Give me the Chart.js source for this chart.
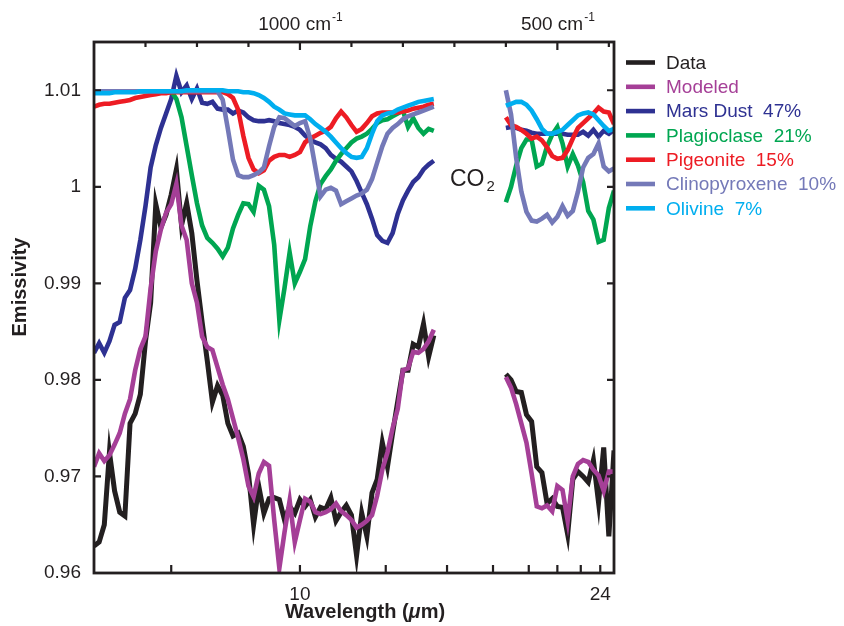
<!DOCTYPE html>
<html>
<head>
<meta charset="utf-8">
<script src="https://cdn.jsdelivr.net/npm/chart.js@4.4.1/dist/chart.umd.min.js"></script>
<style>
html,body{margin:0;padding:0;background:#ffffff;}
#wrap{width:844px;height:626px;position:relative;}
</style>
</head>
<body>
<div id="wrap"><canvas id="c" width="844" height="626"></canvas></div>
<script>
// ---------------- DATA ----------------
// x positions: wavenumber (cm-1); 670 marks the CO2 gap
const wavenumber = [1400,1390,1380,1370,1360,1350,1340,1330,1320,1310,
  1300,1290,1280,1270,1260,1250,1240,1230,1220,1210,
  1200,1190,1180,1170,1160,1150,1140,1130,1120,1110,
  1100,1090,1080,1070,1060,1050,1040,1030,1020,1010,
  1000,990,980,970,960,950,940,930,920,910,
  900,890,880,870,860,850,840,830,820,810,
  800,790,780,770,760,750,740,
  670,
  600,590,580,570,560,550,540,530,520,510,
  500,490,480,470,460,450,440,430,420,410,
  400,390];

const data = [0.9628,0.9632,0.9650,0.9725,0.9685,0.9663,0.9659,0.9755,0.9765,0.9785,
  0.9840,0.9880,0.9982,0.9958,0.9971,0.9992,1.0018,0.9960,0.9983,0.9952,
  0.9903,0.9860,0.9820,0.9777,0.9794,0.9784,0.9755,0.9742,0.9745,0.9731,
  0.9703,0.9650,0.9690,0.9662,0.9677,0.9678,0.9676,0.9655,0.9669,0.9662,
  0.9676,0.9669,0.9676,0.9658,0.9668,0.9666,0.9678,0.9654,0.9663,0.9670,
  0.9660,0.9618,0.9662,0.9638,0.9683,0.9697,0.9735,0.9710,0.9745,0.9778,
  0.9810,0.9810,0.9837,0.9834,0.9858,0.9824,0.9846,
  null,
  0.9806,0.9800,0.9788,0.9787,0.9764,0.9757,0.9710,0.9704,0.9672,0.9677,
  0.9669,0.9668,0.9640,0.9697,0.9705,0.9700,0.9694,0.9717,0.9673,0.9730,
  0.9638,0.9727];

const modeled = [0.9710,0.9724,0.9716,0.9722,0.9733,0.9745,0.9765,0.9780,0.9810,0.9832,
  0.9845,0.9895,0.9933,0.9956,0.9973,0.9982,1.0003,0.9960,0.9945,0.9900,
  0.9880,0.9845,0.9834,0.9831,0.9813,0.9795,0.9780,0.9760,0.9740,0.9718,
  0.9690,0.9679,0.9703,0.9715,0.9711,0.9655,0.9605,0.9642,0.9675,0.9632,
  0.9655,0.9677,0.9674,0.9663,0.9661,0.9663,0.9666,0.9672,0.9664,0.9660,
  0.9655,0.9647,0.9650,0.9654,0.9660,0.9680,0.9707,0.9725,0.9750,0.9770,
  0.9810,0.9812,0.9829,0.9828,0.9832,0.9840,0.9852,
  null,
  0.9803,0.9792,0.9775,0.9755,0.9735,0.9703,0.9669,0.9667,0.9670,0.9664,
  0.9690,0.9686,0.9654,0.9700,0.9713,0.9717,0.9715,0.9707,0.9701,0.9685,
  0.9705,0.9705];

const marsDust = [0.9828,0.9838,0.9828,0.9840,0.9857,0.9860,0.9885,0.9893,0.9915,0.9945,
  0.9980,1.0020,1.0043,1.0061,1.0076,1.0091,1.0115,1.0098,1.0105,1.0091,
  1.0102,1.0087,1.0086,1.0088,1.0081,1.0080,1.0080,1.0076,1.0079,1.0077,
  1.0072,1.0069,1.0068,1.0068,1.0069,1.0068,1.0066,1.0065,1.0064,1.0062,
  1.0059,1.0053,1.0049,1.0046,1.0044,1.0040,1.0033,1.0029,1.0026,1.0021,
  1.0016,1.0006,0.9994,0.9982,0.9967,0.9950,0.9944,0.9942,0.9952,0.9972,
  0.9986,0.9996,1.0005,1.0010,1.0018,1.0023,1.0027,
  null,
  1.0061,1.0062,1.0061,1.0059,1.0058,1.0056,1.0055,1.0055,1.0055,1.0055,
  1.0055,1.0055,1.0054,1.0054,1.0054,1.0057,1.0053,1.0059,1.0052,1.0058,
  1.0055,1.0059];

const plagioclase = [1.0099,1.0099,1.0099,1.0099,1.0099,1.0099,1.0099,1.0099,1.0099,1.0099,
  1.0099,1.0099,1.0099,1.0099,1.0099,1.0099,1.0091,1.0072,1.0042,1.0012,
  0.9983,0.9960,0.9947,0.9942,0.9936,0.9928,0.9937,0.9957,0.9971,0.9983,
  0.9982,0.9974,1.0001,0.9997,0.9980,0.9940,0.9862,0.9895,0.9932,0.9900,
  0.9912,0.9925,0.9959,0.9985,1.0003,1.0011,1.0018,1.0027,1.0034,1.0040,
  1.0046,1.0050,1.0052,1.0055,1.0060,1.0066,1.0069,1.0070,1.0073,1.0076,
  1.0079,1.0062,1.0071,1.0061,1.0055,1.0060,1.0058,
  null,
  0.9984,1.0000,1.0022,1.0040,1.0049,1.0049,1.0021,1.0024,1.0042,1.0054,
  1.0062,1.0045,1.0021,1.0034,1.0022,1.0005,0.9975,0.9966,0.9943,0.9945,
  0.9978,0.9996];

const pigeonite = [1.0083,1.0085,1.0086,1.0086,1.0087,1.0088,1.0089,1.0090,1.0092,1.0093,
  1.0094,1.0095,1.0096,1.0097,1.0097,1.0098,1.0098,1.0098,1.0098,1.0098,
  1.0098,1.0098,1.0098,1.0098,1.0098,1.0098,1.0096,1.0092,1.0080,1.0053,
  1.0030,1.0018,1.0014,1.0017,1.0027,1.0031,1.0033,1.0033,1.0031,1.0033,
  1.0036,1.0046,1.0050,1.0053,1.0056,1.0058,1.0062,1.0071,1.0078,1.0072,
  1.0064,1.0057,1.0060,1.0066,1.0073,1.0076,1.0077,1.0077,1.0077,1.0077,
  1.0078,1.0079,1.0081,1.0082,1.0083,1.0085,1.0086,
  null,
  1.0072,1.0064,1.0062,1.0059,1.0055,1.0050,1.0052,1.0048,1.0041,1.0032,
  1.0029,1.0030,1.0038,1.0050,1.0061,1.0066,1.0071,1.0076,1.0082,1.0078,
  1.0077,1.0065];

const clinopyroxene = [1.0099,1.0099,1.0099,1.0099,1.0099,1.0099,1.0099,1.0099,1.0099,1.0099,
  1.0099,1.0099,1.0099,1.0099,1.0099,1.0099,1.0099,1.0099,1.0099,1.0099,
  1.0099,1.0099,1.0099,1.0099,1.0099,1.0090,1.0060,1.0028,1.0012,1.0010,
  1.0010,1.0012,1.0015,1.0020,1.0042,1.0062,1.0072,1.0071,1.0067,1.0063,
  1.0066,1.0068,1.0050,1.0020,0.9990,0.9997,0.9999,0.9996,0.9982,0.9985,
  0.9988,0.9991,0.9993,0.9997,1.0008,1.0025,1.0042,1.0055,1.0061,1.0065,
  1.0070,1.0073,1.0075,1.0077,1.0079,1.0081,1.0083,
  null,
  1.0100,1.0075,1.0030,0.9995,0.9974,0.9965,0.9964,0.9967,0.9971,0.9963,
  0.9969,0.9980,0.9970,0.9975,0.9995,1.0020,1.0030,1.0034,1.0045,1.0021,
  1.0016,1.0019];

const olivine = [1.0097,1.0097,1.0097,1.0097,1.0098,1.0098,1.0098,1.0098,1.0098,1.0099,
  1.0099,1.0099,1.0099,1.0099,1.0099,1.0099,1.0099,1.0099,1.0100,1.0100,
  1.0100,1.0100,1.0100,1.0100,1.0100,1.0100,1.0099,1.0099,1.0099,1.0098,
  1.0098,1.0097,1.0095,1.0092,1.0088,1.0083,1.0080,1.0076,1.0075,1.0074,
  1.0074,1.0074,1.0070,1.0065,1.0061,1.0057,1.0052,1.0046,1.0040,1.0035,
  1.0031,1.0030,1.0031,1.0040,1.0055,1.0068,1.0074,1.0076,1.0077,1.0080,
  1.0082,1.0084,1.0086,1.0088,1.0089,1.0090,1.0091,
  null,
  1.0084,1.0086,1.0088,1.0088,1.0085,1.0079,1.0070,1.0060,1.0055,1.0055,
  1.0057,1.0059,1.0064,1.0069,1.0074,1.0076,1.0077,1.0075,1.0069,1.0063,
  1.0058,1.0060];

const seriesLabels = ['Data','Modeled','Mars Dust  47%','Plagioclase  21%','Pigeonite  15%','Clinopyroxene  10%','Olivine  7%'];

// tick definitions
const wavelengthTicks = [8,10,12,14,16,18,20,22,24];       // µm, bottom axis
const wavelengthLabelled = [10,24];
const wavenumberTicks = [1300,1200,1100,1000,900,800,700,600,500,400]; // cm-1, top axis
const wavenumberLabelled = [1000,500];
const emissivityTicks = [0.96,0.97,0.98,0.99,1.00,1.01];
const emissivityLabels = ['0.96','0.97','0.98','0.99','1','1.01'];

// ---------------- STYLE ----------------
const INK = '#231f20';
const FONT = "'Liberation Sans', Arial, Helvetica, sans-serif";
const seriesColors = ['#231f20','#a53f97','#2e3192','#00a651','#ed1c24','#7479b8','#00aeef'];
const seriesOrder  = [6, 5, 4, 3, 2, 1, 0];
const seriesWidth  = [5, 4.6, 4.6, 4.6, 4.6, 4.6, 4.6];
const seriesValues = [data, modeled, marsDust, plagioclase, pigeonite, clinopyroxene, olivine];

const datasets = seriesValues.map((vals, k) => ({
  label: seriesLabels[k],
  data: wavenumber.map((w, i) => ({x: w, y: vals[i]})),
  borderColor: seriesColors[k],
  backgroundColor: seriesColors[k],
  borderWidth: seriesWidth[k],
  borderJoinStyle: 'miter',
  borderCapStyle: 'butt',
  pointRadius: 0,
  tension: 0,
  spanGaps: false,
  order: seriesOrder[k],
  xAxisID: 'x',
  yAxisID: 'y'
}));

const decor = {
  id: 'decor',
  afterDraw(chart) {
    const {ctx, chartArea: a, scales} = chart;
    const x = scales.x, xTop = scales.xTop, y = scales.y;
    ctx.save();
    // frame
    ctx.strokeStyle = INK;
    ctx.lineWidth = 2.8;
    ctx.strokeRect(a.left, a.top, a.right - a.left, a.bottom - a.top);
    // inward ticks
    ctx.lineWidth = 2.2;
    ctx.beginPath();
    y.ticks.forEach(t => {
      const p = y.getPixelForValue(t.value);
      ctx.moveTo(a.left, p); ctx.lineTo(a.left + 7, p);
      ctx.moveTo(a.right, p); ctx.lineTo(a.right - 7, p);
    });
    x.ticks.forEach(t => {
      const p = x.getPixelForValue(t.value);
      ctx.moveTo(p, a.bottom); ctx.lineTo(p, a.bottom - 8);
    });
    xTop.ticks.forEach(t => {
      const p = xTop.getPixelForValue(t.value);
      const major = wavenumberLabelled.includes(t.value);
      ctx.moveTo(p, a.top); ctx.lineTo(p, a.top + (major ? 8 : 5));
    });
    ctx.stroke();

    ctx.fillStyle = INK;
    ctx.textBaseline = 'alphabetic';
    // top wavenumber labels with superscript
    wavenumberLabelled.forEach(wn => {
      const p = xTop.getPixelForValue(wn);
      const main = wn + ' cm', sup = '-1';
      ctx.font = '19px ' + FONT;
      const w1 = ctx.measureText(main).width;
      ctx.font = '12px ' + FONT;
      const w2 = ctx.measureText(sup).width;
      const x0 = p - (w1 + w2) / 2;
      ctx.font = '19px ' + FONT;
      ctx.textAlign = 'left';
      ctx.fillText(main, x0, 30);
      ctx.font = '12px ' + FONT;
      ctx.fillText(sup, x0 + w1 + 1, 21);
    });

    // x axis title: Wavelength (µm)
    {
      const parts = [['Wavelength (', 'bold 20px '], ['\u03BC', 'bold italic 20px '], ['m)', 'bold 20px ']];
      let total = 0;
      parts.forEach(pt => { ctx.font = pt[1] + FONT; total += ctx.measureText(pt[0]).width; });
      let cx = 365 - total / 2;
      ctx.textAlign = 'left';
      parts.forEach(pt => { ctx.font = pt[1] + FONT; ctx.fillText(pt[0], cx, 618); cx += ctx.measureText(pt[0]).width; });
    }

    // y axis title
    ctx.save();
    ctx.translate(26, 287);
    ctx.rotate(-Math.PI / 2);
    ctx.font = 'bold 20px ' + FONT;
    ctx.textAlign = 'center';
    ctx.fillText('Emissivity', 0, 0);
    ctx.restore();

    // CO2 annotation in the gap
    {
      const px = x.getPixelForValue(665);
      const py = y.getPixelForValue(1.0001);
      ctx.font = '23px ' + FONT;
      const w1 = ctx.measureText('CO').width;
      ctx.font = '15px ' + FONT;
      const w2 = ctx.measureText('2').width;
      const x0 = px - (w1 + w2 + 2) / 2;
      ctx.textAlign = 'left';
      ctx.font = '23px ' + FONT;
      ctx.fillText('CO', x0, py);
      ctx.font = '15px ' + FONT;
      ctx.fillText('2', x0 + w1 + 2, py + 5);
    }

    // legend
    chart.data.datasets.forEach((ds, k) => {
      const ly = 62.5 + k * 24.3;
      ctx.strokeStyle = ds.borderColor;
      ctx.lineWidth = 4.6;
      ctx.beginPath();
      ctx.moveTo(626, ly); ctx.lineTo(655, ly);
      ctx.stroke();
      ctx.fillStyle = ds.borderColor;
      ctx.font = '19px ' + FONT;
      ctx.textAlign = 'left';
      ctx.textBaseline = 'middle';
      ctx.fillText(ds.label, 666, ly + 1);
    });
    ctx.restore();
  }
};

new Chart(document.getElementById('c'), {
  type: 'line',
  data: { datasets },
  plugins: [decor],
  options: {
    responsive: false,
    animation: false,
    devicePixelRatio: 1,
    layout: { padding: { left: 0, right: 230, top: 0, bottom: 0 } },
    plugins: { legend: { display: false }, tooltip: { enabled: false } },
    scales: {
      x: {
        type: 'linear', position: 'bottom', reverse: true, min: 390, max: 1400,
        afterBuildTicks: s => { s.ticks = wavelengthTicks.map(um => ({ value: 10000 / um })); },
        afterFit: s => { s.height = 53; },
        grid: { display: false, drawTicks: false },
        border: { display: false },
        ticks: {
          autoSkip: false, maxRotation: 0, padding: 10, color: INK,
          font: { family: FONT, size: 19 },
          callback: (v, i) => wavelengthLabelled.includes(wavelengthTicks[i]) ? String(wavelengthTicks[i]) : ''
        }
      },
      xTop: {
        type: 'linear', position: 'top', reverse: true, min: 390, max: 1400,
        afterBuildTicks: s => { s.ticks = wavenumberTicks.map(v => ({ value: v })); },
        afterFit: s => { s.height = 42; },
        grid: { display: false, drawTicks: false },
        border: { display: false },
        ticks: { display: false }
      },
      y: {
        type: 'linear', position: 'left', min: 0.96, max: 1.015,
        afterBuildTicks: s => { s.ticks = emissivityTicks.map(v => ({ value: v })); },
        afterFit: s => { s.width = 94; },
        grid: { display: false, drawTicks: false },
        border: { display: false },
        ticks: {
          padding: 13, color: INK,
          font: { family: FONT, size: 19 },
          callback: (v, i) => emissivityLabels[i]
        }
      }
    }
  }
});
</script>
</body>
</html>
